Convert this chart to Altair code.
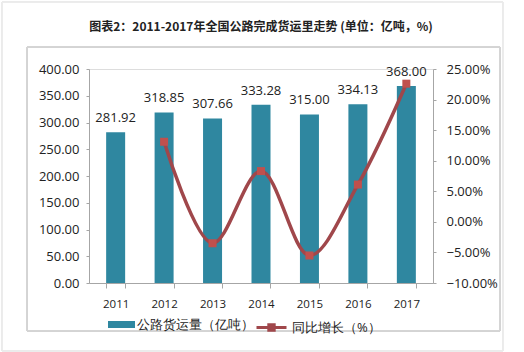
import altair as alt
import pandas as pd

years = ["2011", "2012", "2013", "2014", "2015", "2016", "2017"]
volume = [281.92, 318.85, 307.66, 333.28, 315.00, 334.13, 368.00]
growth = [None, 13.1, -3.5, 8.3, -5.5, 6.1, 22.6]

bar_name = "公路货运量（亿吨）"
line_name = "同比增长（%）"
title_text = "图表2：2011-2017年全国公路完成货运里走势 (单位：亿吨，%)"

BAR = "#2F87A0"
LINE = "#A0474B"
MARK = "#C0504D"
FONT = "Open Sans"

df = pd.DataFrame({"year": years, "volume": volume, "growth": growth,
                   "s1": bar_name, "s2": line_name})
dfl = df.dropna(subset=["growth"])

xenc = alt.X("year:N", sort=years, title=None,
             scale=alt.Scale(paddingInner=0.61, paddingOuter=0.355),
             axis=alt.Axis(labelAngle=0, labelFontSize=11.5, labelColor="#222",
                           labelFont=FONT, tickBand="extent", tickSize=5,
                           tickColor="#A6A6A6", domainColor="#A6A6A6",
                           labelPadding=10))

yleft = alt.Y("volume:Q", title=None,
              scale=alt.Scale(domain=[0, 400], nice=False),
              axis=alt.Axis(values=list(range(0, 401, 50)), format=".2f",
                            grid=False, labelFontSize=13, labelFont=FONT,
                            labelColor="#222", tickSize=3, tickColor="#A6A6A6",
                            domainColor="#A6A6A6", labelPadding=7,
                            labelOverlap=False))

yright = alt.Y("growth:Q", title=None,
               scale=alt.Scale(domain=[-10, 25], nice=False),
               axis=alt.Axis(orient="right", values=list(range(-10, 26, 5)),
                             labelExpr="format(datum.value, '.2f') + '%'",
                             grid=False, labelFontSize=13, labelFont=FONT,
                             labelColor="#222", tickSize=3, tickColor="#A6A6A6",
                             domainColor="#A6A6A6", labelPadding=10,
                             labelOverlap=False))

frame_inner = alt.Chart(df).mark_rect(fill=None, stroke="#D4D4D4", strokeWidth=1).encode(
    x=alt.value(-62), x2=alt.value(411), y=alt.value(-22), y2=alt.value(262))
frame_outer = alt.Chart(df).mark_rect(fill=None, stroke="#EBEBEB", strokeWidth=1).encode(
    x=alt.value(-87), x2=alt.value(414), y=alt.value(-67), y2=alt.value(282))

bars = alt.Chart(df).mark_bar(size=19).encode(
    x=xenc, y=yleft,
    color=alt.Color("s1:N", scale=alt.Scale(range=[BAR]), title=None,
                    legend=alt.Legend(orient="none", legendX=19, legendY=242,
                                      symbolType="M-1,-0.26H1V0.26H-1Z",
                                      symbolSize=729, symbolStrokeWidth=0,
                                      labelFontSize=13, labelFont=FONT,
                                      labelColor="#222", labelOffset=2,
                                      padding=0)))

labels = alt.Chart(df).mark_text(baseline="alphabetic", dy=-10, fontSize=13,
                                 font=FONT, color="#222").encode(
    x=xenc, y=yleft,
    text=alt.Text("volume:Q", format=".2f"))

left = alt.layer(bars, labels)

line = alt.Chart(dfl).mark_line(interpolate="catmull-rom", strokeWidth=3.5).encode(
    x=xenc, y=yright,
    stroke=alt.Stroke("s2:N", scale=alt.Scale(range=[LINE]), title=None,
                      legend=alt.Legend(orient="none", legendX=166, legendY=242,
                                        symbolType="M-1,0H1M-0.18,-0.18H0.18V0.18H-0.18Z",
                                        symbolSize=900, symbolStrokeWidth=3,
                                        symbolFillColor=MARK,
                                        labelFontSize=13, labelFont=FONT,
                                        labelColor="#222", labelOffset=4,
                                        padding=0)))

pts = alt.Chart(dfl).mark_point(shape="square", filled=True, size=64,
                                color=MARK, opacity=1).encode(
    x=xenc, y=yright)

right = alt.layer(line, pts)

chart = alt.layer(frame_outer, frame_inner, left, right).resolve_scale(
    y="independent", color="independent", stroke="independent"
).properties(
    width=344, height=214,
    autosize=alt.AutoSizeParams(type="none"),
    padding={"left": 89, "top": 69, "right": 91, "bottom": 69},
    title=alt.TitleParams(title_text, fontSize=12, fontWeight="bold",
                          font="Noto Sans CJK SC", color="#222",
                          anchor="middle", frame="group", offset=-44,
                          baseline="bottom"),
).configure_view(stroke=None).configure(background="white")

chart.save("out.html", embed_options={"renderer": "svg", "actions": False})
